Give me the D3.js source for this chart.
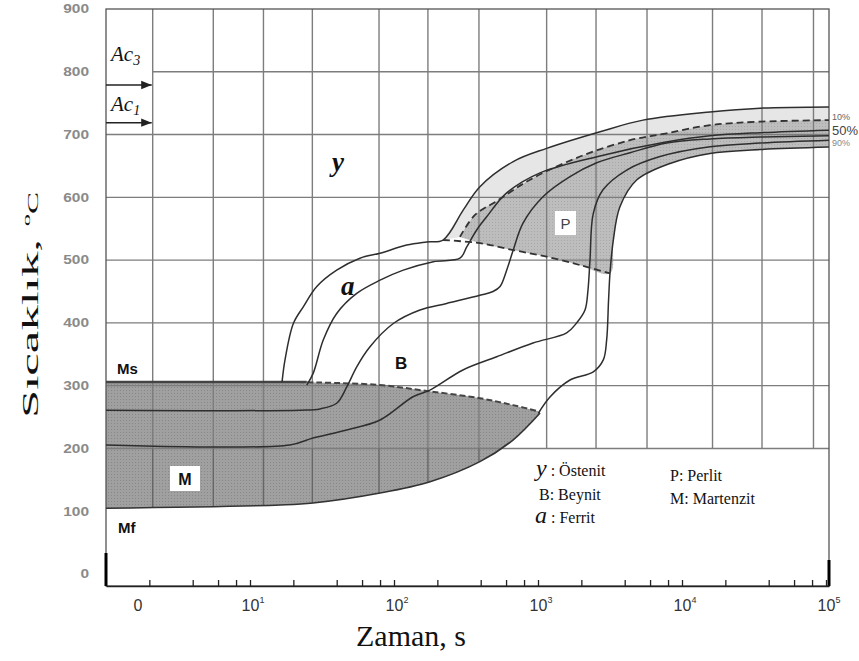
<!DOCTYPE html>
<html>
<head>
<meta charset="utf-8">
<script src="https://cdn.jsdelivr.net/npm/d3@7"></script>
<style>
  body { margin: 0; background: #fff; }
  svg { display: block; }
</style>
</head>
<body>
<div id="chart"></div>
<script>
// temperature axis (°C)
const yTicks = [0, 100, 200, 300, 400, 500, 600, 700, 800, 900];
const gridTemps = [800, 700, 600, 500, 400, 300, 200];
// time axis (s) – grid of the original drawing and the minor ticks
const gridTimes = [2.11, 5.56, 12.4, 27.1, 78.7, 172, 389, 1148, 2529, 5715, 16290, 35940, 81850];
const minorTicks = [2, 4, 6, 8, 10, 20, 40, 60, 80, 100, 200, 400, 600, 800, 1000,
  2000, 4000, 6000, 8000, 10000, 20000, 40000, 60000, 80000, 100000];
const xLabelValues = [1.67, 10, 100, 1000, 10000, 100000];
const xLabelBase = ["0", "10", "10", "10", "10", "10"];
const xLabelExp = ["", "1", "2", "3", "4", "5"];

// critical temperatures
const ac3 = 779, ac1 = 719;

// martensite region
const msLine = [[1, 306], [16.2, 306]];
const mTop = [[16.2, 306], [30, 305], [80, 301], [169, 291.5], [395, 280], [670, 269], [1033, 258.5]];
const mBottom = [[1, 104.7], [16.2, 109.9], [27.4, 113.1], [80, 129], [178, 147], [395, 179], [670, 213.4], [1033, 256.5]];

// transformation curves [time s, temperature °C]
const curve1 = [[16.7, 306], [17.5, 341], [20, 399], [23.5, 426], [29.1, 458], [40, 484], [58, 503],
  [80, 511], [122.5, 524], [168.7, 529], [219, 532], [303, 580], [395, 617], [673, 657], [1148, 678],
  [2698, 704.5], [5358, 723], [15640, 736], [34800, 742], [104800, 744]];
const curve2 = [[24.8, 301], [27.5, 320], [32.3, 373], [40, 415], [55.1, 447], [80, 468], [116, 484],
  [187.5, 497.5], [287, 503], [320, 521], [375, 548], [440, 569], [606, 607], [1033, 639],
  [2698, 666], [7740, 688], [15640, 698], [34800, 703], [104800, 707]];
const curve3 = [[1, 261], [22.3, 261], [30.6, 263], [40, 272], [47, 298], [55.1, 330], [68.1, 362],
  [98.9, 399], [151.5, 420.5], [232, 431], [395, 444], [487, 450], [545, 458], [606, 484],
  [673, 516], [787, 559], [1083, 601], [1668, 633], [2557, 655], [4355, 671], [7830, 686.5],
  [15640, 693], [34800, 696], [104800, 698]];
const curve4 = [[1, 205.5], [18.9, 205.5], [27.4, 216.6], [47, 229.4], [80, 245.3], [135.5, 282.4],
  [177.8, 293], [301, 325], [517, 346], [923, 368], [1581, 384], [1856, 400], [2120, 420.5],
  [2223, 452], [2296, 500], [2421, 574.5], [2826, 612], [4130, 643.5], [7030, 665], [15640, 680.6],
  [34800, 686.5], [104800, 691]];
const curve5 = [[1005, 256], [1211, 282], [1668, 309], [2421, 322], [2840, 341], [2997, 373],
  [3090, 436], [3162, 479], [3334, 532], [3707, 585], [4842, 627.6], [8260, 654], [15640, 670],
  [34800, 676], [104800, 680]];
const curve50 = [[287, 537], [365, 572], [517, 594], [880, 628], [1958, 665], [4355, 691],
  [7830, 702], [15640, 715], [34800, 720.5], [104800, 723]];
const pearliteBottom = [[219, 532], [395, 527], [673, 516], [1148, 505.4], [1958, 492], [3162, 479]];

const width = 859, height = 661;
const svg = d3.select("#chart").append("svg")
  .attr("width", width)
  .attr("height", height)
  .style("background", "#fff");

const x = d3.scaleLog().domain([1, 104900]).range([106, 829]);
const y = d3.scaleLinear().domain([0, 900]).range([574, 9]);
const axisY = 586;
const sans = "'Liberation Sans', Arial, sans-serif";
const serif = "'Liberation Serif', 'Times New Roman', serif";

const line = d3.line()
  .x(d => x(d[0]))
  .y(d => y(d[1]))
  .curve(d3.curveCatmullRom.alpha(0.5));

function closedPath(a, b) {
  const rev = b.slice().reverse();
  return line(a) + line(rev).replace(/^M/, "L") + "Z";
}

const defs = svg.append("defs");
const dots = defs.append("pattern").attr("id", "dots")
  .attr("width", 3).attr("height", 3).attr("patternUnits", "userSpaceOnUse");
dots.append("rect").attr("width", 3).attr("height", 3).attr("fill", "#a0a0a0");
dots.append("rect").attr("width", 1).attr("height", 1).attr("fill", "#888");
const dotsP = defs.append("pattern").attr("id", "dotsP")
  .attr("width", 3).attr("height", 3).attr("patternUnits", "userSpaceOnUse");
dotsP.append("rect").attr("width", 3).attr("height", 3).attr("fill", "#bdbdbd");
dotsP.append("rect").attr("width", 1).attr("height", 1).attr("fill", "#a8a8a8");

const mPath = closedPath(msLine.concat(mTop.slice(1)), mBottom);
defs.append("clipPath").attr("id", "mclip").append("path").attr("d", mPath);

// shaded regions
const c1Upper = curve1.filter(d => d[0] >= 219);
svg.append("path")
  .attr("d", closedPath(c1Upper, curve50))
  .attr("fill", "#e6e6e6");

const c5Upper = curve5.filter(d => d[0] >= 3162);
svg.append("path")
  .attr("d", closedPath(pearliteBottom.filter(d => d[0] >= 287).concat(c5Upper.slice(1)), curve50))
  .attr("fill", "url(#dotsP)");

svg.append("path").attr("d", mPath).attr("fill", "url(#dots)");

// grid
const grid = svg.append("g").attr("stroke", "#7d7d7d").attr("stroke-width", 1.4);
grid.selectAll(".vgrid").data(gridTimes).enter().append("line")
  .attr("x1", d => x(d)).attr("x2", d => x(d))
  .attr("y1", y(900)).attr("y2", y(200));
grid.selectAll(".hgrid").data(gridTemps).enter().append("line")
  .attr("x1", d => d === 800 ? x(2.11) : x(1)).attr("x2", x(104900))
  .attr("y1", d => y(d)).attr("y2", d => y(d));
svg.append("g").attr("clip-path", "url(#mclip)")
  .attr("stroke", "#666").attr("stroke-width", 1.4)
  .selectAll("line").data(gridTimes).enter().append("line")
  .attr("x1", d => x(d)).attr("x2", d => x(d))
  .attr("y1", y(200)).attr("y2", y(90));

// frame
svg.append("rect")
  .attr("x", x(1)).attr("y", y(900))
  .attr("width", x(104900) - x(1)).attr("height", axisY - y(900))
  .attr("fill", "none").attr("stroke", "#555").attr("stroke-width", 1.3);
svg.append("line").attr("x1", x(1)).attr("x2", x(1)).attr("y1", 553).attr("y2", axisY)
  .attr("stroke", "#000").attr("stroke-width", 3);
svg.append("line").attr("x1", x(104900)).attr("x2", x(104900)).attr("y1", 560).attr("y2", axisY)
  .attr("stroke", "#000").attr("stroke-width", 3);

// M region outline
svg.append("path").attr("d", line(msLine.concat([[24.8, 306]])))
  .attr("fill", "none").attr("stroke", "#444").attr("stroke-width", 2.5);
svg.append("path").attr("d", line(mTop))
  .attr("fill", "none").attr("stroke", "#444").attr("stroke-width", 2)
  .attr("stroke-dasharray", "6,3");
svg.append("path").attr("d", line(mBottom))
  .attr("fill", "none").attr("stroke", "#333").attr("stroke-width", 1.6);

// curves
const solid = [curve1, curve2, curve3, curve4, curve5];
svg.selectAll(".tcurve").data(solid).enter().append("path")
  .attr("class", "tcurve")
  .attr("d", line)
  .attr("fill", "none").attr("stroke", "#2e2e2e").attr("stroke-width", 1.5);
svg.append("path").attr("d", line(curve50))
  .attr("fill", "none").attr("stroke", "#333").attr("stroke-width", 1.8)
  .attr("stroke-dasharray", "7,4");
svg.append("path").attr("d", line(pearliteBottom))
  .attr("fill", "none").attr("stroke", "#333").attr("stroke-width", 1.8)
  .attr("stroke-dasharray", "7,4");

// Ac labels
svg.append("rect").attr("x", x(1) + 1).attr("y", 22).attr("width", 44).attr("height", 108).attr("fill", "#fff");
defs.append("marker").attr("id", "arrow").attr("viewBox", "0 0 10 10")
  .attr("refX", 10).attr("refY", 5).attr("markerWidth", 7).attr("markerHeight", 7)
  .attr("orient", "auto")
  .append("path").attr("d", "M0,1L10,5L0,9Z").attr("fill", "#222");
[ac3, ac1].forEach(t => {
  svg.append("line").attr("x1", x(1)).attr("x2", x(2.11) - 1)
    .attr("y1", y(t)).attr("y2", y(t))
    .attr("stroke", "#222").attr("stroke-width", 1.5).attr("marker-end", "url(#arrow)");
});
[["3", ac3 + 38], ["1", ac1 + 18]].forEach(([sub, t]) => {
  const tx = svg.append("text").attr("x", 111).attr("y", y(t))
    .attr("font-family", serif).attr("font-style", "italic")
    .attr("font-size", 21).attr("fill", "#111");
  tx.append("tspan").text("Ac");
  tx.append("tspan").attr("font-size", 14).attr("dy", 4).text(sub);
});

// axes
const xAxis = svg.append("g").attr("transform", `translate(0,${axisY})`)
  .call(d3.axisBottom(x).tickValues(minorTicks).tickSizeInner(-6).tickSizeOuter(0).tickFormat(""));
xAxis.select(".domain").attr("stroke", "#222").attr("stroke-width", 1.5);
xAxis.selectAll(".tick line").attr("stroke", "#222").attr("stroke-width", 1.3);

const yAxis = svg.append("g").attr("transform", `translate(${x(1)},0)`)
  .call(d3.axisLeft(y).tickValues(yTicks).tickSize(0).tickPadding(17));
yAxis.select(".domain").remove();
yAxis.selectAll("text")
  .attr("font-family", sans)
  .attr("font-size", 12).attr("font-weight", "bold").attr("fill", "#8a8a8a")
  .attr("textLength", d => String(d).length * 8.6)
  .attr("lengthAdjust", "spacingAndGlyphs");

const xl = svg.append("g").selectAll("text").data(xLabelValues).enter().append("text")
  .attr("x", d => x(d) + (d < 5 ? 0 : 3))
  .attr("y", 611)
  .attr("text-anchor", "middle")
  .attr("font-family", sans)
  .attr("font-size", 16).attr("fill", "#333");
xl.append("tspan").text((d, i) => xLabelBase[i]);
xl.append("tspan").attr("font-size", 9).attr("dy", -8).text((d, i) => xLabelExp[i]);

svg.append("text").attr("x", 411).attr("y", 646).attr("text-anchor", "middle")
  .attr("font-family", serif).attr("font-size", 30).attr("fill", "#111")
  .text("Zaman, s");

const yt = svg.append("text").attr("transform", "translate(38,305) rotate(-90)")
  .attr("text-anchor", "middle")
  .attr("font-family", serif).attr("font-size", 23).attr("fill", "#111")
  .attr("textLength", 226).attr("lengthAdjust", "spacingAndGlyphs");
yt.append("tspan").text("Sıcaklık, ");
yt.append("tspan").attr("font-size", 11).attr("dy", -8).text("o");
yt.append("tspan").attr("font-size", 15).attr("dy", 8).text("C");

// region labels
svg.append("text").attr("x", 117).attr("y", 374).attr("font-family", sans)
  .attr("font-weight", "bold").attr("font-size", 15).attr("fill", "#111").text("Ms");
svg.append("text").attr("x", 118).attr("y", 533).attr("font-family", sans)
  .attr("font-weight", "bold").attr("font-size", 15).attr("fill", "#111").text("Mf");
svg.append("rect").attr("x", 170).attr("y", 466).attr("width", 30).attr("height", 25).attr("fill", "#fff");
svg.append("text").attr("x", 185).attr("y", 485).attr("text-anchor", "middle").attr("font-family", sans)
  .attr("font-weight", "bold").attr("font-size", 16).attr("fill", "#111").text("M");
svg.append("rect").attr("x", 555).attr("y", 211).attr("width", 21).attr("height", 24).attr("fill", "#fff");
svg.append("text").attr("x", 565.5).attr("y", 229).attr("text-anchor", "middle").attr("font-family", sans)
  .attr("font-size", 15).attr("fill", "#444").text("P");
svg.append("text").attr("x", 395).attr("y", 369).attr("font-family", sans)
  .attr("font-weight", "bold").attr("font-size", 17).attr("fill", "#111").text("B");
svg.append("text").attr("x", 332).attr("y", 171).attr("font-family", serif)
  .attr("font-weight", "bold").attr("font-style", "italic").attr("font-size", 27).attr("fill", "#111").text("y");
svg.append("text").attr("x", 341).attr("y", 295).attr("font-family", serif)
  .attr("font-weight", "bold").attr("font-style", "italic").attr("font-size", 27).attr("fill", "#111").text("a");

// percent labels at the right edge
[["10%", 120, 9, "#666"], ["50%", 135, 13, "#444"], ["90%", 146, 9, "#888"]].forEach(([s, yp, fs, c]) => {
  svg.append("text").attr("x", 832).attr("y", yp)
    .attr("font-family", sans).attr("font-size", fs).attr("fill", c).text(s);
});

// legend
function legendItem(xp, yp, sym, rest, italicSym) {
  const t = svg.append("text").attr("x", xp).attr("y", yp)
    .attr("font-family", serif).attr("font-size", 16).attr("fill", "#111");
  const s = t.append("tspan").text(sym);
  if (italicSym) s.attr("font-style", "italic").attr("font-size", 24);
  t.append("tspan").text(rest);
}
legendItem(536, 476, "y", " : Östenit", true);
legendItem(539, 500, "B", ": Beynit", false);
legendItem(535, 523, "a", " : Ferrit", true);
legendItem(670, 481, "P", ": Perlit", false);
legendItem(670, 504, "M", ": Martenzit", false);
</script>
</body>
</html>
